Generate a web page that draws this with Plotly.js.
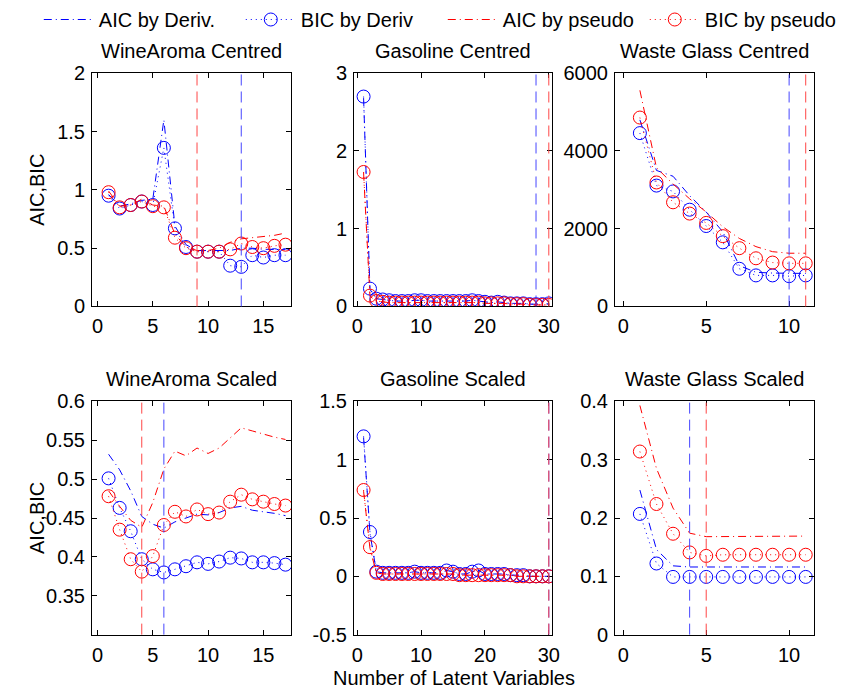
<!DOCTYPE html>
<html>
<head>
<meta charset="utf-8">
<script src="https://cdn.plot.ly/plotly-3.0.1.min.js"></script>
<style>html,body{margin:0;padding:0;background:#fff;}#chart{width:862px;height:689px;}</style>
</head>
<body>
<div id="chart"></div>
<script>
// ---------- data ----------
const lv11 = [1,2,3,4,5,6,7,8,9,10,11];
const lv17 = [1,2,3,4,5,6,7,8,9,10,11,12,13,14,15,16,17];
const lv30 = [1,2,3,4,5,6,7,8,9,10,11,12,13,14,15,16,17,18,19,20,21,22,23,24,25,26,27,28,29,30];

const panelTitles = ["WineAroma Centred","Gasoline Centred","Waste Glass Centred","WineAroma Scaled","Gasoline Scaled","Waste Glass Scaled"];
const seriesNames = ["AIC by Deriv.","BIC by Deriv","AIC by pseudo","BIC by pseudo"];

// WineAroma Centred
const aicDerivWC  = [0.96,0.86,0.88,0.91,0.92,1.60,0.69,0.53,0.48,0.48,0.48,0.48,0.50,0.50,0.49,0.49,0.49];
const bicDerivWC  = [0.95,0.84,0.87,0.90,0.87,1.36,0.67,0.51,0.47,0.47,0.47,0.35,0.34,0.44,0.42,0.44,0.44];
const aicPseudoWC = [0.99,0.86,0.87,0.92,0.87,0.86,0.62,0.51,0.48,0.48,0.50,0.55,0.58,0.59,0.60,0.61,0.63];
const bicPseudoWC = [0.98,0.85,0.87,0.90,0.86,0.85,0.59,0.50,0.47,0.47,0.47,0.49,0.54,0.51,0.50,0.52,0.53];

// Gasoline Centred
const aicDerivGaC  = [2.68,0.22,0.10,0.09,0.08,0.07,0.07,0.07,0.08,0.08,0.07,0.07,0.07,0.07,0.07,0.07,0.07,0.08,0.07,0.06,0.05,0.06,0.05,0.04,0.04,0.04,0.03,0.03,0.03,0.03];
const bicDerivGaC  = [2.70,0.23,0.10,0.09,0.08,0.07,0.07,0.07,0.08,0.08,0.07,0.07,0.07,0.07,0.07,0.07,0.07,0.08,0.07,0.06,0.05,0.06,0.05,0.04,0.04,0.04,0.03,0.03,0.03,0.04];
const aicPseudoGaC = [1.72,0.13,0.07,0.06,0.05,0.05,0.05,0.05,0.05,0.05,0.05,0.05,0.05,0.05,0.05,0.05,0.05,0.05,0.05,0.04,0.04,0.04,0.04,0.03,0.03,0.03,0.02,0.02,0.02,0.02];
const bicPseudoGaC = [1.73,0.14,0.07,0.06,0.05,0.05,0.05,0.05,0.05,0.05,0.05,0.05,0.05,0.05,0.05,0.05,0.05,0.05,0.05,0.04,0.04,0.04,0.04,0.03,0.03,0.03,0.02,0.02,0.02,0.02];

// Waste Glass Centred
const aicDerivGlC  = [4800,3500,3350,2850,2430,1920,1050,880,860,850,850];
const bicDerivGlC  = [4460,3110,2960,2490,2070,1650,970,800,800,780,800];
const aicPseudoGlC = [5560,3570,3150,2770,2430,2050,1750,1540,1410,1370,1370];
const bicPseudoGlC = [4860,3190,2680,2390,2150,1810,1500,1240,1130,1110,1110];

// WineAroma Scaled
const aicDerivWS  = [0.532,0.512,0.485,0.452,0.442,0.437,0.445,0.450,0.455,0.454,0.457,0.463,0.465,0.460,0.458,0.456,0.453];
const bicDerivWS  = [0.501,0.463,0.433,0.397,0.384,0.380,0.384,0.388,0.393,0.391,0.394,0.399,0.398,0.393,0.393,0.392,0.390];
const aicPseudoWS = [0.485,0.465,0.447,0.438,0.470,0.513,0.536,0.530,0.540,0.533,0.540,0.553,0.566,0.562,0.558,0.554,0.551];
const bicPseudoWS = [0.478,0.435,0.397,0.381,0.401,0.441,0.458,0.452,0.461,0.455,0.457,0.471,0.480,0.474,0.471,0.468,0.466];

// Gasoline Scaled
const aicDerivGaS  = [1.19,0.37,0.04,0.03,0.03,0.03,0.03,0.03,0.04,0.03,0.03,0.03,0.03,0.05,0.04,0.02,0.02,0.04,0.05,0.02,0.02,0.02,0.02,0.01,0.01,0.01,0.00,0.00,0.00,0.00];
const bicDerivGaS  = [1.20,0.38,0.04,0.03,0.03,0.03,0.03,0.03,0.04,0.03,0.03,0.03,0.03,0.05,0.04,0.02,0.02,0.04,0.05,0.02,0.02,0.02,0.02,0.01,0.01,0.01,0.00,0.00,0.00,0.00];
const aicPseudoGaS = [0.73,0.24,0.03,0.02,0.02,0.02,0.02,0.02,0.02,0.02,0.02,0.02,0.02,0.02,0.02,0.01,0.01,0.01,0.01,0.01,0.01,0.01,0.01,0.01,0.00,0.00,0.00,0.00,0.00,0.00];
const bicPseudoGaS = [0.74,0.25,0.03,0.02,0.02,0.02,0.02,0.02,0.02,0.02,0.02,0.02,0.02,0.02,0.02,0.01,0.01,0.01,0.01,0.01,0.01,0.01,0.01,0.01,0.00,0.00,0.00,0.00,0.00,0.00];

// Waste Glass Scaled
const aicDerivGlS  = [0.248,0.146,0.118,0.116,0.116,0.116,0.116,0.116,0.116,0.116,0.116];
const bicDerivGlS  = [0.207,0.122,0.099,0.099,0.099,0.099,0.099,0.099,0.099,0.099,0.099];
const aicPseudoGlS = [0.393,0.285,0.217,0.174,0.168,0.168,0.168,0.169,0.169,0.169,0.169];
const bicPseudoGlS = [0.314,0.224,0.173,0.141,0.135,0.137,0.137,0.137,0.137,0.137,0.137];

// selected number of latent variables (vertical dashed lines)
const selDeriv  = [13,28,10,6,30,4];
const selPseudo = [9,30,11,4,30,5];

// axis tick values
const xTicks = [[0,5,10,15],[0,10,20,30],[0,5,10],[0,5,10,15],[0,10,20,30],[0,5,10]];
const yTicks = [[0,0.5,1,1.5,2],[0,1,2,3],[0,2000,4000,6000],[0.35,0.4,0.45,0.5,0.55,0.6],[-0.5,0,0.5,1,1.5],[0,0.1,0.2,0.3,0.4]];
const yTickText = [["0","0.5","1","1.5","2"],["0","1","2","3"],["0","2000","4000","6000"],["0.35","0.4","0.45","0.5","0.55","0.6"],["-0.5","0","0.5","1","1.5"],["0","0.1","0.2","0.3","0.4"]];

// ---------- build ----------
const panels = [
  {x: lv17, s: [aicDerivWC, bicDerivWC, aicPseudoWC, bicPseudoWC], xr: [-0.5,17.5], yr: [0,2]},
  {x: lv30, s: [aicDerivGaC, bicDerivGaC, aicPseudoGaC, bicPseudoGaC], xr: [-0.5,30.5], yr: [0,3]},
  {x: lv11, s: [aicDerivGlC, bicDerivGlC, aicPseudoGlC, bicPseudoGlC], xr: [-0.5,11.5], yr: [0,6000]},
  {x: lv17, s: [aicDerivWS, bicDerivWS, aicPseudoWS, bicPseudoWS], xr: [-0.5,17.5], yr: [0.3,0.6]},
  {x: lv30, s: [aicDerivGaS, bicDerivGaS, aicPseudoGaS, bicPseudoGaS], xr: [-0.5,30.5], yr: [-0.5,1.5]},
  {x: lv11, s: [aicDerivGlS, bicDerivGlS, aicPseudoGlS, bicPseudoGlS], xr: [-0.5,11.5], yr: [0,0.4]}
];

const W = 862, H = 689;
const colX = [[92,291],[354,552],[615,814]];
const rowY = [[66,302],[398,634]];
const BLUE = 'rgb(0,0,255)', RED = 'rgb(255,0,0)';
const DASHDOT = '8px,4px,1px,4px';
const DOT = '1px,4px';
const FS = 20;

const traces = [];
const layout = {
  width: W, height: H,
  margin: {l:0, r:0, t:0, b:0},
  paper_bgcolor: '#fff', plot_bgcolor: '#fff',
  font: {family: 'Liberation Sans, Arial, sans-serif', size: FS, color: '#000'},
  showlegend: true,
  legend: {orientation: 'h', x: 0.045, y: 1.012, xanchor: 'left', yanchor: 'top',
           font: {size: 20}, bgcolor: 'rgba(0,0,0,0)', itemwidth: 50,
           entrywidth: 137, entrywidthmode: 'pixels', tracegroupgap: 0},
  annotations: [], shapes: []
};

panels.forEach((p, i) => {
  const r = Math.floor(i/3), c = i % 3;
  const xa = 'x' + (i ? i+1 : ''), ya = 'y' + (i ? i+1 : '');
  const xk = 'xaxis' + (i ? i+1 : ''), yk = 'yaxis' + (i ? i+1 : '');
  const styles = [
    {color: BLUE, dash: DASHDOT, mode: 'lines'},
    {color: BLUE, dash: DOT, mode: 'lines+markers'},
    {color: RED, dash: DASHDOT, mode: 'lines'},
    {color: RED, dash: DOT, mode: 'lines+markers'}
  ];
  styles.forEach((st, k) => {
    traces.push({
      type: 'scatter', x: p.x, y: p.s[k], xaxis: xa, yaxis: ya,
      name: seriesNames[k], legendgroup: seriesNames[k], showlegend: i === 0,
      mode: st.mode, cliponaxis: true,
      line: {color: st.color, width: 1, dash: st.dash},
      marker: {symbol: 'circle-open', size: 13, color: st.color, line: {width: 1, color: st.color}},
      hoverinfo: 'skip'
    });
  });
  layout[xk] = {
    domain: [colX[c][0]/W, colX[c][1]/W], anchor: ya, range: p.xr,
    tickvals: xTicks[i], ticks: 'inside', ticklen: 5, tickcolor: '#000',
    showline: true, linecolor: '#000', linewidth: 1, mirror: 'ticks',
    showgrid: false, zeroline: false, tickfont: {size: FS}, ticklabelstandoff: 2
  };
  layout[yk] = {
    domain: [1 - rowY[r][1]/H, 1 - rowY[r][0]/H], anchor: xa, range: p.yr,
    tickvals: yTicks[i], ticktext: yTickText[i], ticks: 'inside', ticklen: 5, tickcolor: '#000',
    showline: true, linecolor: '#000', linewidth: 1, mirror: 'ticks',
    showgrid: false, zeroline: false, tickfont: {size: FS}, ticklabelstandoff: 2
  };
  layout.annotations.push({
    text: panelTitles[i], xref: 'paper', yref: 'paper',
    x: (colX[c][0] + colX[c][1]) / 2 / W, y: 1 - (rowY[r][0] - 9) / H,
    xanchor: 'center', yanchor: 'bottom', showarrow: false, font: {size: FS}
  });
  layout.shapes.push({type: 'line', xref: xa, yref: ya + ' domain', x0: selDeriv[i], x1: selDeriv[i], y0: 0, y1: 1,
    line: {color: 'rgb(70,70,255)', width: 1, dash: '11px,6px'}});
  layout.shapes.push({type: 'line', xref: xa, yref: ya + ' domain', x0: selPseudo[i], x1: selPseudo[i], y0: 0, y1: 1,
    line: {color: 'rgb(255,70,70)', width: 1, dash: '11px,6px'}});
});

// y labels and x label
[0,1].forEach(r => {
  layout.annotations.push({
    text: 'AIC,BIC', xref: 'paper', yref: 'paper', x: 37/W, y: 1 - (rowY[r][0] + rowY[r][1]) / 2 / H,
    xanchor: 'center', yanchor: 'middle', textangle: -90, showarrow: false, font: {size: FS}
  });
});
layout.annotations.push({
  text: 'Number of Latent Variables', xref: 'paper', yref: 'paper', x: 454/W, y: 1 - 678/H,
  xanchor: 'center', yanchor: 'middle', showarrow: false, font: {size: FS}
});

Plotly.newPlot('chart', traces, layout, {staticPlot: true, displayModeBar: false});
</script>
</body>
</html>
